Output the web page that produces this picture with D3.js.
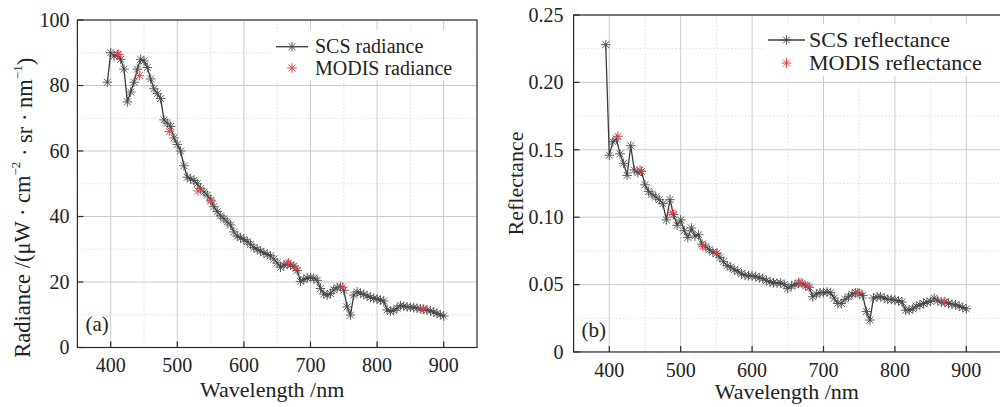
<!DOCTYPE html>
<html><head><meta charset="utf-8">
<script src="https://cdn.jsdelivr.net/npm/d3@7"></script>
</head><body style="margin:0;background:#fff">
<svg id="c" width="1000" height="407" font-family="Liberation Serif" style="font-family:'Liberation Serif'"></svg>
<script>
// ---------- data ----------
const wavelength = [395,400,405,410,415,420,425,430,435,440,445,450,455,460,465,470,475,480,485,490,
  495,500,505,510,515,520,525,530,535,540,545,550,555,560,565,570,575,580,585,590,
  595,600,605,610,615,620,625,630,635,640,645,650,655,660,665,670,675,680,685,690,
  695,700,705,710,715,720,725,730,735,740,745,750,755,760,765,770,775,780,785,790,
  795,800,805,810,815,820,825,830,835,840,845,850,855,860,865,870,875,880,885,890,
  895,900];
const scsRadiance = [81,90,89,89.5,88,85,75,78,81,85,88,87.5,85.5,82,79,77.5,76,69.5,68.5,67.5,
  64,62,60,55.5,52,51.5,51,50,48.5,47.5,46.5,45,43,41.5,40.2,39.3,38.3,37.4,35.3,34,
  33.5,33,32.3,31.5,30.5,30,29.4,28.9,28.4,28,27,25.8,24.5,25.2,25.5,25.2,24.8,23.5,20.2,20.8,
  21.2,21.3,21.2,20.5,18,16.3,16,16.5,17.6,18.3,18.5,17.5,12.4,9.9,16,17,16.6,16.2,15.8,15.3,
  15,14.8,14.5,14.2,11.5,11,11.3,12,12.8,12.6,12.4,12.3,12.2,12,11.8,11.6,11.4,11.2,10.8,10.4,
  10,9.6];
const scsReflectance = [0.228,0.146,0.156,0.158,0.147,0.140,0.131,0.153,0.135,0.133,0.134,0.124,0.119,0.117,0.115,0.113,0.110,0.098,0.113,0.102,
  0.094,0.098,0.090,0.085,0.092,0.086,0.087,0.080,0.078,0.076,0.074,0.073,0.070,0.067,0.064,0.063,0.061,0.060,0.058,0.057,
  0.0565,0.0565,0.056,0.055,0.0545,0.053,0.052,0.0515,0.051,0.0513,0.050,0.0472,0.049,0.050,0.051,0.051,0.049,0.048,0.041,0.043,
  0.044,0.044,0.0445,0.044,0.040,0.036,0.036,0.039,0.041,0.043,0.044,0.0435,0.042,0.030,0.0237,0.040,0.041,0.041,0.040,0.039,
  0.039,0.0385,0.038,0.037,0.031,0.031,0.032,0.034,0.035,0.036,0.037,0.0375,0.040,0.038,0.037,0.037,0.036,0.0355,0.035,0.034,
  0.033,0.032];
const modisWavelength = [412,443,488,531,551,667,678,748,869];
const modisRadiance = [89.5,83,66,47.8,44.7,25.8,24.2,18.4,11.8];
const modisReflectance = [0.160,0.135,0.1033,0.0786,0.0735,0.0514,0.049,0.044,0.0373];
const xTicks = [400,500,600,700,800,900];
const xMinorTicks = [450,550,650,750,850];
const radianceTicks = [0,20,40,60,80,100];
const radianceMinor = [10,30,50,70,90];
const reflectanceTicks = [0,0.05,0.10,0.15,0.20,0.25];
const reflectanceTickLabels = ["0","0.05","0.10","0.15","0.20","0.25"];
const reflectanceMinor = [0.025,0.075,0.125,0.175,0.225];

// ---------- drawing ----------
const svg = d3.select("#c");
const lineColor = "#3a3a3a", markColor = "#4a4a4a", red = "#e2434b";
const SERIF = "Liberation Serif";

function star(r){
  const a = r*0.72;
  return `M${-r},0L${r},0M0,${-r}L0,${r}M${-a},${-a}L${a},${a}M${-a},${a}L${a},${-a}`;
}
function txt(sel){
  return sel.append("text").attr("font-family", SERIF).style("font-family", `"${SERIF}"`).attr("fill","#222");
}

function panel(cfg){
  const x = d3.scaleLinear().domain([350,950]).range([cfg.x0, cfg.x1]);
  const y = d3.scaleLinear().domain(cfg.yDomain).range([cfg.y1, cfg.y0]);
  const g = svg.append("g");
  const clipId = "clip"+cfg.id;
  svg.append("clipPath").attr("id", clipId).append("rect")
    .attr("x", cfg.x0).attr("y", cfg.y0).attr("width", cfg.x1-cfg.x0).attr("height", cfg.y1-cfg.y0);
  const gp = g.append("g").attr("clip-path", `url(#${clipId})`);

  gp.selectAll(".mx").data(xMinorTicks).join("line")
    .attr("x1", d=>x(d)).attr("x2", d=>x(d)).attr("y1", cfg.y0).attr("y2", cfg.y1)
    .attr("stroke", "#d4d4d4").attr("stroke-width", 0.8).attr("stroke-dasharray", "1.5,2");
  gp.selectAll(".my").data(cfg.yMinor).join("line")
    .attr("y1", d=>y(d)).attr("y2", d=>y(d)).attr("x1", cfg.x0).attr("x2", cfg.x1)
    .attr("stroke", "#d4d4d4").attr("stroke-width", 0.8).attr("stroke-dasharray", "1.5,2");
  gp.selectAll(".gx").data(xTicks).join("line")
    .attr("x1", d=>x(d)).attr("x2", d=>x(d)).attr("y1", cfg.y0).attr("y2", cfg.y1)
    .attr("stroke", "#cbcbcb").attr("stroke-width", 1);
  gp.selectAll(".gy").data(cfg.yTicks).join("line")
    .attr("y1", d=>y(d)).attr("y2", d=>y(d)).attr("x1", cfg.x0).attr("x2", cfg.x1)
    .attr("stroke", "#cbcbcb").attr("stroke-width", 1);

  const lg = cfg.legend;
  g.append("rect").attr("x", lg.bx0).attr("y", lg.by0).attr("width", lg.bx1-lg.bx0).attr("height", lg.by1-lg.by0)
    .attr("fill", "#fff");

  const pts = wavelength.map((w,i)=>[w, cfg.scs[i]]);
  gp.append("path").datum(pts)
    .attr("d", d3.line().x(d=>x(d[0])).y(d=>y(d[1])))
    .attr("fill","none").attr("stroke", lineColor).attr("stroke-width", 1.3);
  gp.selectAll(".sm").data(pts).join("path")
    .attr("transform", d=>`translate(${x(d[0])},${y(d[1])})`)
    .attr("d", star(4.8)).attr("stroke", markColor).attr("stroke-width", 0.9).attr("fill","none");
  const mp = modisWavelength.map((w,i)=>[w, cfg.modis[i]]);
  gp.selectAll(".mm").data(mp).join("path")
    .attr("transform", d=>`translate(${x(d[0])},${y(d[1])})`)
    .attr("d", star(4.8)).attr("stroke", red).attr("stroke-width", 1).attr("fill","none");

  g.append("rect").attr("x", cfg.x0).attr("y", cfg.y0).attr("width", cfg.x1-cfg.x0).attr("height", cfg.y1-cfg.y0)
    .attr("fill","none").attr("stroke","#2a2a2a").attr("stroke-width",1.2);

  g.selectAll(".tx").data(xTicks).join("line")
    .attr("x1", d=>x(d)).attr("x2", d=>x(d)).attr("y1", cfg.y1).attr("y2", cfg.y1-6)
    .attr("stroke","#2a2a2a").attr("stroke-width",1.2);
  g.selectAll(".ty").data(cfg.yTicks).join("line")
    .attr("y1", d=>y(d)).attr("y2", d=>y(d)).attr("x1", cfg.x0).attr("x2", cfg.x0+6)
    .attr("stroke","#2a2a2a").attr("stroke-width",1.2);

  xTicks.forEach(d => {
    txt(g).attr("x", x(d)).attr("y", cfg.y1+24.5).attr("text-anchor","middle")
      .attr("font-size", 20).text(d);
  });
  cfg.yTicks.forEach((d,i) => {
    txt(g).attr("x", cfg.x0-cfg.yLabelGap).attr("y", y(d)).attr("dy","0.34em").attr("text-anchor","end")
      .attr("font-size", 20).text(cfg.yTickLabels[i]);
  });

  txt(g).attr("x", (cfg.x0+cfg.x1)/2 - cfg.xTitleShift).attr("y", cfg.y1+cfg.xTitleDy)
    .attr("text-anchor","middle").attr("font-size",22).text("Wavelength /nm");
  const yt = txt(g)
    .attr("transform", `translate(${cfg.yTitleX},${(cfg.y0+cfg.y1)/2 + cfg.yTitleShift}) rotate(-90)`)
    .attr("text-anchor","middle").attr("font-size",cfg.yTitleSize);
  cfg.yTitle(yt);

  txt(g).attr("x", cfg.x0+8).attr("y", cfg.y1-cfg.letterDy).attr("font-size",21).text(cfg.letter);

  g.append("line").attr("x1", lg.lx0).attr("x2", lg.lx1).attr("y1", lg.r1).attr("y2", lg.r1)
    .attr("stroke", lineColor).attr("stroke-width",1.3);
  g.append("path").attr("transform", `translate(${(lg.lx0+lg.lx1)/2},${lg.r1})`)
    .attr("d", star(4.8)).attr("stroke", markColor).attr("stroke-width",0.9).attr("fill","none");
  g.append("path").attr("transform", `translate(${(lg.lx0+lg.lx1)/2},${lg.r2})`)
    .attr("d", star(4.8)).attr("stroke", red).attr("stroke-width",1).attr("fill","none");
  txt(g).attr("x", lg.tx).attr("y", lg.r1).attr("dy","0.33em").attr("font-size",lg.fs).text(lg.t1);
  txt(g).attr("x", lg.tx).attr("y", lg.r2).attr("dy","0.33em").attr("font-size",lg.fs).text(lg.t2);
}

panel({
  id:"a", x0:77.4, x1:477, y0:20, y1:347.5, yDomain:[0,100],
  scs: scsRadiance, modis: modisRadiance,
  yTicks: radianceTicks, yTickLabels: radianceTicks.map(String), yMinor: radianceMinor,
  yLabelGap: 8, xTitleShift: 5, xTitleDy: 49.5, yTitleX: 30, yTitleShift: 24, yTitleSize: 22.5,
  letter:"(a)", letterDy: 17,
  yTitle: t => {
    t.append("tspan").text("Radiance /(μW · cm");
    t.append("tspan").attr("font-size",13).attr("dy","-0.75em").text("−2");
    t.append("tspan").attr("dy","0.5em").text(" · sr · nm");
    t.append("tspan").attr("font-size",13).attr("dy","-0.75em").text("−1");
    t.append("tspan").attr("dy","0.5em").text(")");
  },
  legend:{bx0:273, bx1:472, by0:30, by1:80, lx0:276, lx1:308, tx:315, r1:46.7, r2:68, fs:20,
    t1:"SCS radiance", t2:"MODIS radiance"}
});

panel({
  id:"b", x0:573.6, x1:1002, y0:15, y1:352, yDomain:[0,0.25],
  scs: scsReflectance, modis: modisReflectance,
  yTicks: reflectanceTicks, yTickLabels: reflectanceTickLabels, yMinor: reflectanceMinor,
  yLabelGap: 10, xTitleShift: 1, xTitleDy: 47, yTitleX: 523, yTitleShift: 0, yTitleSize: 22,
  letter:"(b)", letterDy: 15,
  yTitle: t => { t.text("Reflectance"); },
  legend:{bx0:764, bx1:1000, by0:24, by1:76, lx0:768, lx1:805, tx:809, r1:40, r2:63, fs:22,
    t1:"SCS reflectance", t2:"MODIS reflectance"}
});
</script>
</body></html>
